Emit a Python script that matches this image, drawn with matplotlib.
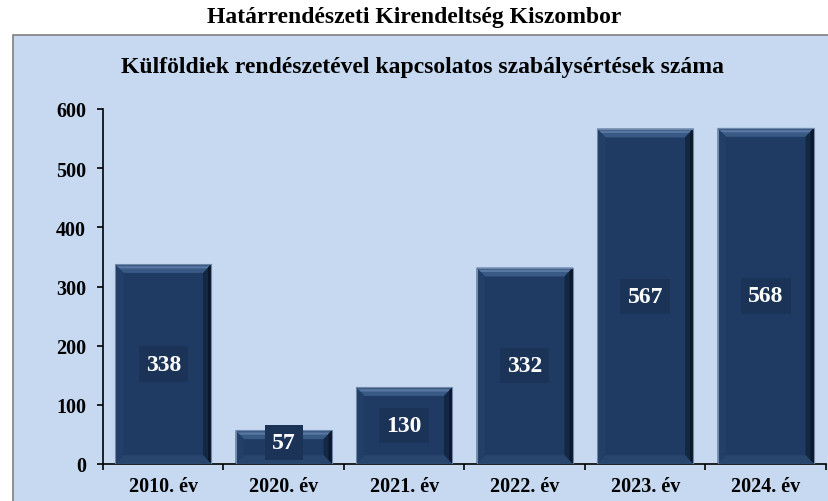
import matplotlib.pyplot as plt
from matplotlib.patches import Rectangle, Polygon

# ---------------- DATA ----------------
years = ['2010. év', '2020. év', '2021. év', '2022. év', '2023. év', '2024. év']
counts = [338, 57, 130, 332, 567, 568]
y_ticks = [0, 100, 200, 300, 400, 500, 600]

main_title = 'Határrendészeti Kirendeltség Kiszombor'
chart_title = 'Külföldiek rendészetével kapcsolatos szabálysértések száma'

# ---------------- STYLE ----------------
plt.rcParams['font.family'] = ['Liberation Serif', 'DejaVu Serif']
panel_col = '#C6D9F1'
bar_col = '#1F3B63'
label_box_col = '#1A3357'

fig = plt.figure(figsize=(8.29, 5.02), dpi=100)
fig.patch.set_facecolor('white')

# light blue panel behind the chart
fig.patches.append(Rectangle((13 / 829, -0.01), 1, 1.01 - 36 / 502, transform=fig.transFigure,
                             facecolor=panel_col, edgecolor='#7F7F7F', linewidth=1.2, zorder=-1))

fig.text(0.5, 1 - 18 / 502, main_title, ha='center', va='center',
         fontsize=17, fontweight='bold')
fig.text(0.51, 1 - 68 / 502, chart_title, ha='center', va='center',
         fontsize=17, fontweight='bold')

ax = fig.add_axes([103 / 829, 1 - 465 / 502, 723 / 829, 355 / 502])
ax.set_facecolor('none')

x = list(range(len(years)))
width = 0.80
bars = ax.bar(x, counts, width=width, color=bar_col, edgecolor='none', zorder=2)

# bevel effect on each bar (top light, right dark)
dx = 0.07
dy = 15
for b in bars:
    x0, y0 = b.get_x(), b.get_y()
    x1, y1 = x0 + b.get_width(), y0 + b.get_height()
    d = min(dy, b.get_height() / 3)
    faces = [
        ([(x0, y1), (x1, y1), (x1 - dx, y1 - d), (x0 + dx, y1 - d)], '#3A5A86'),
        ([(x0, y1 - d * 0.25), (x1, y1 - d * 0.25), (x1 - dx * 0.5, y1 - d * 0.5),
          (x0 + dx * 0.5, y1 - d * 0.5)], '#5878A2'),
        ([(x1, y1), (x1, y0), (x1 - dx, y0 + d), (x1 - dx, y1 - d)], '#132843'),
        ([(x1, y1), (x1, y0), (x1 - dx * 0.4, y0 + d * 0.4), (x1 - dx * 0.4, y1 - d * 0.4)], '#0B172A'),
        ([(x0, y0), (x1, y0), (x1 - dx, y0 + d), (x0 + dx, y0 + d)], '#28456D'),
        ([(x0, y0), (x0, y1), (x0 + dx, y1 - d), (x0 + dx, y0 + d)], '#223F67'),
    ]
    for pts, col in faces:
        ax.add_patch(Polygon(pts, closed=True, facecolor=col, edgecolor='none', zorder=3))
    ax.add_patch(Rectangle((x0, y0), x1 - x0, y1 - y0, facecolor='none',
                           edgecolor='#7088A8', linewidth=0.8, zorder=4))

# value labels in dark boxes
for xi, v in zip(x, counts):
    ax.text(xi, max(v / 2, 37), str(v), ha='center', va='center', color='white',
            fontsize=17, fontweight='bold', zorder=5,
            bbox=dict(boxstyle='square,pad=0.3', facecolor=label_box_col, edgecolor='none'))

ax.set_xlim(-0.5, len(years) - 0.5)
ax.set_ylim(0, 600)
ax.set_yticks(y_ticks)
ax.set_yticklabels([str(t) for t in y_ticks], fontsize=14.5, fontweight='bold')
ax.set_xticks(x)
ax.set_xticklabels(years, fontsize=14.5, fontweight='bold')
ax.tick_params(axis='x', length=0, pad=9)
ax.set_xticks([i - 0.5 for i in range(len(years) + 1)], minor=True)
ax.tick_params(axis='x', which='minor', length=4.3, width=1.2, color='black')
ax.tick_params(axis='y', length=4.3, width=1.2, pad=8)

for s in ['top', 'right']:
    ax.spines[s].set_visible(False)
for s in ['left', 'bottom']:
    ax.spines[s].set_linewidth(1.2)
    ax.spines[s].set_color('black')

plt.savefig('out.png', dpi=100, facecolor=fig.get_facecolor())
